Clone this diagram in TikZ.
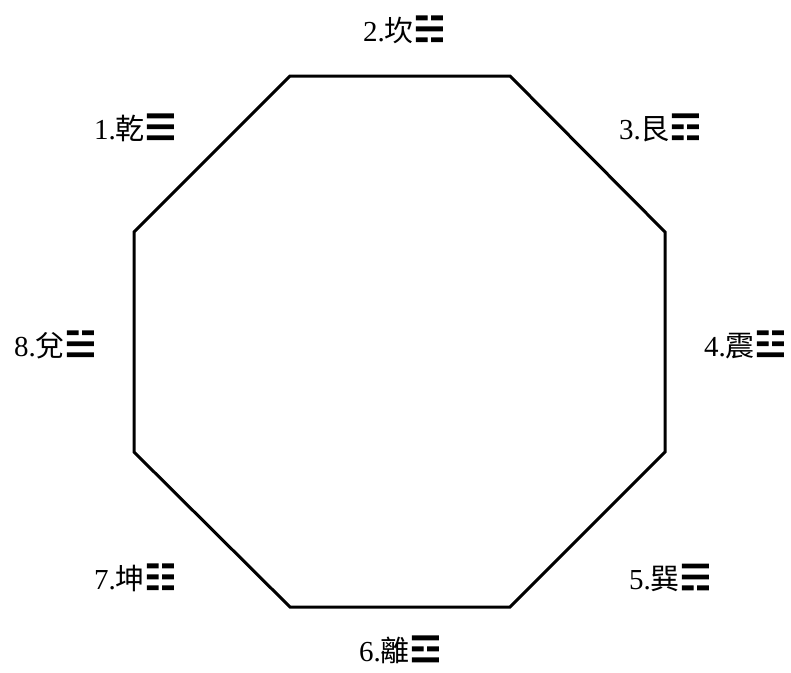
\documentclass[tikz,border=0pt]{standalone}
\usepackage{fontspec}
\setmainfont{Liberation Serif}
\newfontfamily\cjk{Noto Sans CJK TC}
\newfontfamily\guasym[Scale=1.2,FakeBold=4]{DejaVu Sans}
\usetikzlibrary{positioning}

\newcommand{\gualabel}[3]{#1.{\cjk #2}{\guasym #3}}

\begin{document}
\begin{tikzpicture}[x=1pt, y=-1pt,
  bagua/.style={draw=black, line width=3pt, line join=miter},
  gua/.style={font=\fontsize{29}{32}\selectfont, inner sep=0pt}]
\useasboundingbox (0,0) rectangle (791,672);
% octagon corners
\coordinate (t1) at (290,76);
\coordinate (t2) at (510,76);
\coordinate (r1) at (665,232);
\coordinate (r2) at (665,452);
\coordinate (b2) at (510,607);
\coordinate (b1) at (290,607);
\coordinate (l2) at (134,452);
\coordinate (l1) at (134,232);
\draw[bagua] (t1) -- (t2) -- (r1) -- (r2) -- (b2) -- (b1) -- (l2) -- (l1) -- cycle;
% trigram labels
\node[gua] (qian) at (135,128) {\gualabel{1}{乾}{☰}};
\node[gua] (kan)  at (404,30)  {\gualabel{2}{坎}{☵}};
\node[gua] (gen)  at (660,128) {\gualabel{3}{艮}{☶}};
\node[gua] (zhen) at (745,345) {\gualabel{4}{震}{☳}};
\node[gua] (xun)  at (670,578) {\gualabel{5}{巽}{☴}};
\node[gua] (li)   at (400,650) {\gualabel{6}{離}{☲}};
\node[gua] (kun)  at (135,578) {\gualabel{7}{坤}{☷}};
\node[gua] (dui)  at (55,345)  {\gualabel{8}{兌}{☱}};
\end{tikzpicture}
\end{document}
